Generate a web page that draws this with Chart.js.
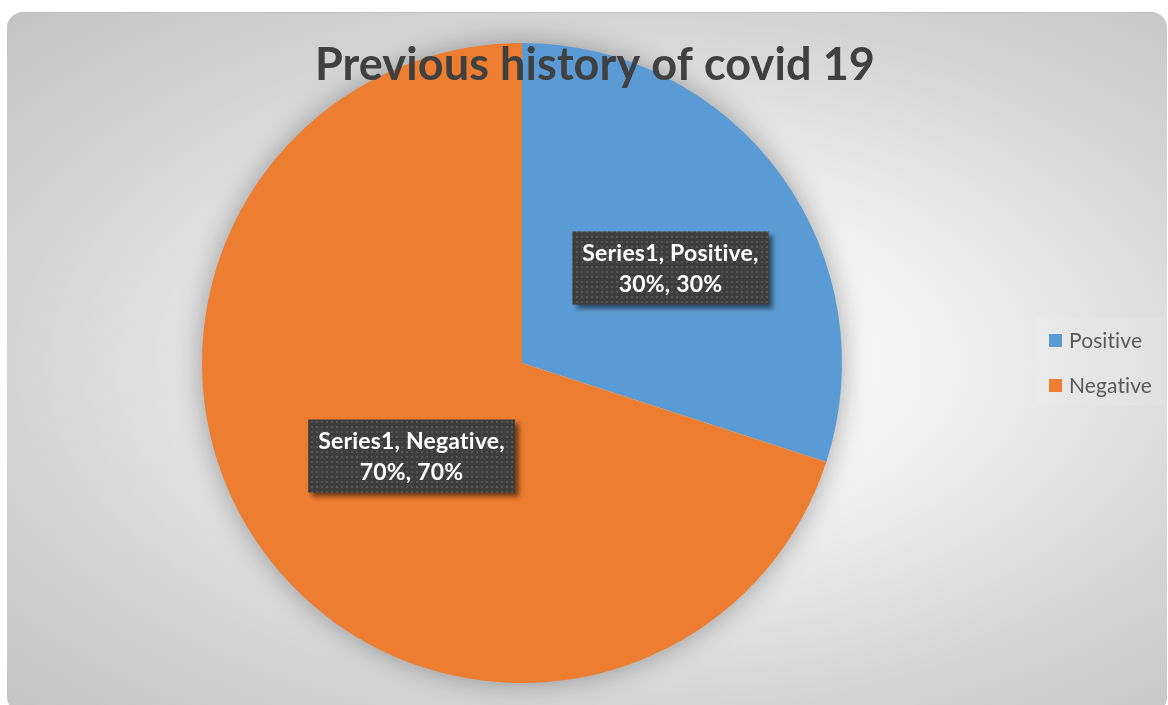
<!DOCTYPE html>
<html>
<head>
<meta charset="utf-8">
<script src="https://cdn.jsdelivr.net/npm/chart.js@4.4.1/dist/chart.umd.min.js"></script>
<style>
  body { margin: 0; background: #fff; }
  #card {
    position: absolute; left: 7px; top: 12px; width: 1160px; height: 700px;
    border-radius: 16px; border-top: 1px solid #bdbdbd;
    background: radial-gradient(ellipse farthest-corner at 55% 50%, #ffffff 0%, #f3f3f3 30%, #d4d4d4 70%, #c3c3c3 100%);
  }
  #chart { position: absolute; left: 0; top: 0; }
</style>
</head>
<body>
<div id="card"></div>
<canvas id="chart" width="1168" height="705"></canvas>
<script>
const titleText = "Previous history of covid 19";
const seriesName = "Series1";
const categories = ["Positive", "Negative"];
const values = [30, 70];
const colors = ["#5B9BD5", "#ED7D31"];

// small dotted fill used behind the data labels
function dotPattern(ctx) {
  const p = document.createElement("canvas");
  p.width = 5; p.height = 5;
  const c = p.getContext("2d");
  c.fillStyle = "#3d3d3d";
  c.fillRect(0, 0, 5, 5);
  c.fillStyle = "#555555";
  c.fillRect(1, 1, 2, 2);
  return ctx.createPattern(p, "repeat");
}

const pieShadow = {
  id: "pieShadow",
  beforeDatasetsDraw(chart) {
    const arc = chart.getDatasetMeta(0).data[0];
    const ctx = chart.ctx;
    ctx.save();
    ctx.shadowColor = "rgba(0,0,0,0.35)";
    ctx.shadowBlur = 28;
    ctx.fillStyle = "#e0e0e0";
    ctx.beginPath();
    ctx.arc(arc.x, arc.y, arc.outerRadius - 1, 0, Math.PI * 2);
    ctx.fill();
    ctx.restore();
  }
};

const overlay = {
  id: "overlay",
  afterDatasetsDraw(chart) {
    const ctx = chart.ctx;
    const meta = chart.getDatasetMeta(0);
    const total = values.reduce((a, b) => a + b, 0);

    // title sits on top of the pie
    ctx.save();
    ctx.font = "bold 45px Lato";
    ctx.letterSpacing = "0.1px";
    ctx.fillStyle = "#404040";
    ctx.textAlign = "center";
    ctx.textBaseline = "alphabetic";
    ctx.fillText(titleText, 595, 80);
    ctx.restore();

    // data labels
    const pat = dotPattern(ctx);
    meta.data.forEach((arc, i) => {
      const mid = (arc.startAngle + arc.endAngle) / 2;
      const r = arc.outerRadius * 0.5;
      const cx = arc.x + Math.cos(mid) * r + 19;
      const cy = arc.y + Math.sin(mid) * r - 1;
      const pct = Math.round(values[i] / total * 100) + "%";
      const lines = [seriesName + ", " + categories[i] + ",", pct + ", " + pct];
      ctx.save();
      ctx.font = "bold 23px Lato";
      ctx.letterSpacing = "0.2px";
      const w = Math.max(...lines.map(l => ctx.measureText(l).width)) + 20;
      const h = 73;
      ctx.shadowColor = "rgba(0,0,0,0.55)";
      ctx.shadowBlur = 5;
      ctx.shadowOffsetX = 4;
      ctx.shadowOffsetY = 4;
      ctx.fillStyle = pat;
      ctx.fillRect(cx - w / 2, cy - h / 2, w, h);
      ctx.shadowColor = "transparent";
      ctx.fillStyle = "#ffffff";
      ctx.textAlign = "center";
      ctx.textBaseline = "middle";
      ctx.fillText(lines[0], cx, cy - 14);
      ctx.fillText(lines[1], cx, cy + 17);
      ctx.restore();
    });

    // legend
    ctx.save();
    ctx.fillStyle = "rgba(255,255,255,0.1)";
    ctx.fillRect(1036, 317, 129, 88);
    ctx.font = "21px Lato";
    ctx.letterSpacing = "0.1px";
    ctx.textBaseline = "middle";
    categories.forEach((name, i) => {
      const y = 340 + i * 45;
      ctx.fillStyle = colors[i];
      ctx.fillRect(1049, y - 6, 13, 13);
      ctx.fillStyle = "#595959";
      ctx.fillText(name, 1069, y + 1);
    });
    ctx.restore();
  }
};

new Chart(document.getElementById("chart"), {
  type: "pie",
  data: {
    labels: categories,
    datasets: [{
      label: seriesName,
      data: values,
      backgroundColor: colors,
      borderWidth: 0
    }]
  },
  options: {
    responsive: false,
    animation: false,
    layout: { padding: { left: 202, right: 326, top: 43, bottom: 22 } },
    plugins: {
      legend: { display: false },
      title: { display: false },
      tooltip: { enabled: false }
    }
  },
  plugins: [pieShadow, overlay]
});
</script>
</body>
</html>
